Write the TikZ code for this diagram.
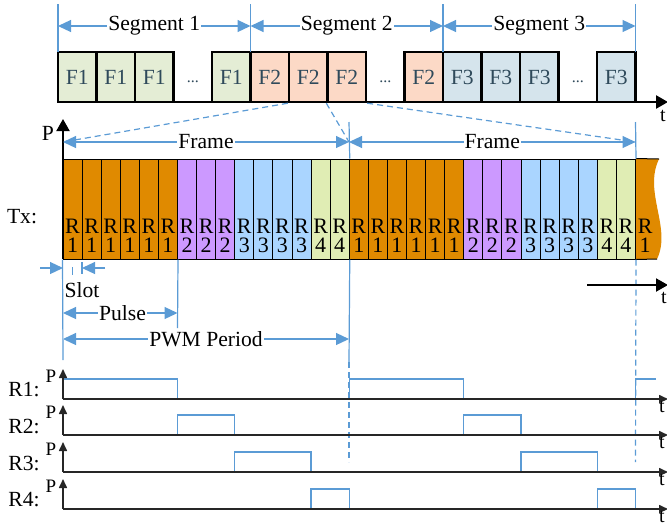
\documentclass[tikz,border=0pt]{standalone}
\usepackage{fontspec}
\setmainfont{Liberation Serif}
\usetikzlibrary{positioning,arrows.meta}

\definecolor{fonegreen}{HTML}{E4EDD5}
\definecolor{ftwored}{HTML}{FCD9C6}
\definecolor{fthreeblue}{HTML}{D5E4EC}
\definecolor{ftext}{HTML}{2F4A5B}
\definecolor{slot1}{HTML}{E08A00}
\definecolor{slot2}{HTML}{CC99FF}
\definecolor{slot3}{HTML}{AAD5FF}
\definecolor{slot4}{HTML}{E0EDB4}
\definecolor{lineblue}{HTML}{5B9BD5}

\begin{document}
\begin{tikzpicture}[x=0.5pt, y=-0.5pt,
  every node/.style={font=\fontsize{10.8}{12}\selectfont, inner sep=1pt},
  fbox/.style={draw=black, line width=1.2pt, minimum width=19.25pt, minimum height=25pt, text=ftext, inner sep=0pt},
  slotbox/.style={draw=black, line width=0.5pt, minimum width=9.54pt, minimum height=50pt, inner sep=0pt},
  slottext/.style={anchor=south, align=center, inner sep=3.3pt, font=\fontsize{11}{9.5}\selectfont},
  measure/.style={lineblue, line width=0.6pt, {Triangle[length=6.5pt,width=6pt]}-{Triangle[length=6.5pt,width=6pt]}},
  single/.style={lineblue, line width=0.6pt, -{Triangle[length=6.5pt,width=6pt]}},
  guide/.style={lineblue, line width=0.6pt},
  zoomline/.style={lineblue, line width=0.6pt, dash pattern=on 3pt off 2pt},
  axis/.style={black!85, line width=0.8pt, -{Triangle[length=4.5pt,width=4pt]}},
  bigaxis/.style={black, line width=1.2pt, -{Triangle[length=6pt,width=6.5pt]}},
  pulse/.style={lineblue, line width=0.6pt},
  tmark/.style={anchor=north, inner sep=0pt, font=\fontsize{10}{11}\selectfont},
  lbl/.style={fill=white, text=black, inner sep=0.5pt}]
\useasboundingbox (0,0) rectangle (667,525);

% Segments of frames
\foreach \i/\t/\c in {0/F1/fonegreen,1/F1/fonegreen,2/F1/fonegreen,4/F1/fonegreen,
    5/F2/ftwored,6/F2/ftwored,7/F2/ftwored,9/F2/ftwored,
    10/F3/fthreeblue,11/F3/fthreeblue,12/F3/fthreeblue,14/F3/fthreeblue}
  \node [fbox, fill=\c] (top\i) at ({58+38.5*(\i+0.5)},77) {\t};
\foreach \i in {3,8,13}
  \node [text=ftext, font=\fontsize{8}{9}\selectfont] (top\i) at ({58+38.5*(\i+0.5)},82) {...};

\coordinate (taxis0) at (58,102);
\coordinate (taxis1) at (668,102);
\draw [bigaxis] (taxis0) -- (taxis1);
\node [tmark] (ttop) at (663,110) {t};

\foreach \i/\x in {0/58,1/250.5,2/443,3/635.5}{
  \coordinate (segtop\i) at (\x,4);
  \coordinate (segmid\i) at (\x,26);
  \coordinate (segbot\i) at (\x,52);
  \draw [guide] (segtop\i) -- (segbot\i);
}
\draw [measure] (segmid0) -- node [lbl] (seglabel1) {Segment 1} (segmid1);
\draw [measure] (segmid1) -- node [lbl] (seglabel2) {Segment 2} (segmid2);
\draw [measure] (segmid2) -- node [lbl] (seglabel3) {Segment 3} (segmid3);

% Tx slots
\foreach \r [count=\k from 0] in {1,1,1,1,1,1,2,2,2,3,3,3,3,4,4,1,1,1,1,1,1,2,2,2,3,3,3,3,4,4}
  \node [slotbox, fill=slot\r, label={[slottext]south:{R\\\r}}] (slot\k) at ({63+19.083*(\k+0.5)},209) {};

% torn slot at the end
\coordinate (tearA) at (659,159);
\coordinate (tearB) at (657,259);
\fill [slot1] (slot29.north east) -- (tearA) .. controls (643,192) and (672,228) .. (tearB) -- (slot29.south east) -- cycle;
\draw [black, line width=0.5pt] (slot29.north east) -- (tearA);
\draw [black, line width=0.5pt] (slot29.south east) -- (tearB);
\node [slottext] (slotend) at (645.2,259) {R\\1};

\node (txlabel) at (22,217) {Tx:};
\coordinate (pbase) at (63,259);
\coordinate (ptop) at (63,119);
\draw [bigaxis, line width=1pt] (pbase) -- (ptop);
\node (plabel) at (48,133) {P};

% Frames
\coordinate (frame0) at (63,142);
\coordinate (frame1) at (349,142);
\coordinate (frame2) at (635.5,142);
\draw [zoomline] (top6.south west) -- (frame0);
\draw [zoomline] (top7.south west) -- (frame1);
\draw [zoomline] (top7.south east) -- (frame2);
\draw [measure] (frame0) -- node [lbl] (framelabel1) {Frame} (frame1);
\draw [measure] (frame1) -- node [lbl] (framelabel2) {Frame} (frame2);

% guide lines
\coordinate (gone) at (349,122);
\coordinate (gonemid) at (349,362);
\coordinate (goneend) at (349,462);
\coordinate (gtwo) at (635.5,122);
\coordinate (gtwoend) at (635.5,462);
\draw [guide] (gone) -- (slot14.north east);
\draw [guide] (slot14.south east) -- (gonemid);
\draw [zoomline] (gonemid) -- (goneend);
\draw [guide] (gtwo) -- (slot29.north east);
\draw [zoomline] (slot29.south east) -- (gtwoend);
\coordinate (gzero) at (63,360);
\coordinate (gpulse) at (177.5,328);
\draw [guide] (slot0.south west) -- (gzero);
\draw [guide] (slot5.south east) -- (gpulse);

% Slot, Pulse, PWM Period
\coordinate (slotin) at (40,268);
\coordinate (slotleft) at (63,268);
\coordinate (slotout) at (105,268);
\coordinate (slotright) at (82,268);
\draw [single] (slotin) -- (slotleft);
\draw [single] (slotout) -- (slotright);
\draw [guide] (82,262) -- (82,274);
\draw [guide] (72.5,267) -- (72.5,275);
\node (slotlabel) at (82,290) {Slot};

\coordinate (pulse0) at (63,313);
\coordinate (pulse1) at (177.5,313);
\draw [measure] (pulse0) -- node [lbl, pos=0.52] (pulselabel) {Pulse} (pulse1);
\coordinate (pwm0) at (63,339);
\coordinate (pwm1) at (349,339);
\draw [measure] (pwm0) -- node [lbl, pos=0.5] (pwmlabel) {PWM Period} (pwm1);

\coordinate (tarrow0) at (587,285);
\coordinate (tarrow1) at (668,285);
\draw [bigaxis, line width=1pt] (tarrow0) -- (tarrow1);
\node [tmark] (tmid) at (664,292) {t};

% Receivers
\foreach \yb/\a/\b in {399/0/6, 399/15/21, 435/6/9, 435/21/24, 472/9/13, 472/24/28, 509/13/15, 509/28/30}
  \draw [pulse] ({63+19.083*\a},\yb) -- ({63+19.083*\a},\yb-20) -- ({63+19.083*\b},\yb-20) -- ({63+19.083*\b},\yb);
\draw [pulse] (635.5,399) -- (635.5,379) -- (656,379);

\foreach \n/\yb in {1/399,2/435,3/472,4/509}{
  \coordinate (org\n) at (63,\yb);
  \coordinate (tend\n) at (668,\yb);
  \coordinate (ptop\n) at (63,\yb-30);
  \draw [axis] (org\n) -- (tend\n);
  \draw [axis] (org\n) -- (ptop\n);
  \node (rlabel\n) at (24,\yb-9) {R\n:};
  \node [font=\fontsize{9.5}{10}\selectfont] (plabel\n) at (51,\yb-23) {P};
  \node [tmark] (tlabel\n) at (662,\yb+2) {t};
}
\end{tikzpicture}
\end{document}
